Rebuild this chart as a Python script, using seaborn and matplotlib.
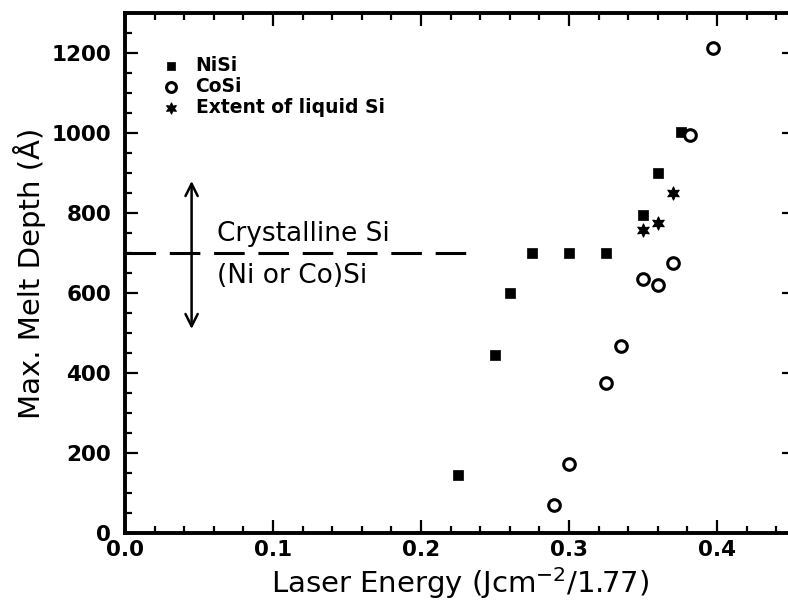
import matplotlib
matplotlib.use("Agg")
import matplotlib.pyplot as plt
from matplotlib.ticker import MultipleLocator
import seaborn as sns

# Maximum melt depth versus laser energy
nisi_energy = [0.225, 0.25, 0.26, 0.275, 0.30, 0.325, 0.35, 0.36, 0.376]
nisi_depth = [145, 445, 600, 700, 700, 700, 795, 900, 1002]

cosi_energy = [0.29, 0.30, 0.325, 0.335, 0.35, 0.36, 0.37, 0.382, 0.397]
cosi_depth = [70, 172, 375, 468, 635, 620, 675, 995, 1213]

liquid_energy = [0.35, 0.36, 0.37]
liquid_depth = [757, 775, 851]

interface_depth = 700
interface_end = 0.235
arrow_energy = 0.045
arrow_span = [510, 880]

sns.set_theme(style="ticks")
plt.rcParams["font.family"] = ["DejaVu Sans"]
plt.rcParams["text.color"] = "black"
plt.rcParams["axes.labelcolor"] = "black"
plt.rcParams["xtick.color"] = "black"
plt.rcParams["ytick.color"] = "black"

fig = plt.figure(figsize=(7.88, 6.06), dpi=100)
ax = fig.add_axes([125 / 788, 73 / 606, 669.7 / 788, 520 / 606])

# Interface between crystalline Si and the silicide
ax.plot([0, interface_end], [interface_depth, interface_depth], color="black",
        lw=2.2, dashes=(10, 4.5), zorder=2)

sns.scatterplot(x=nisi_energy, y=nisi_depth, marker="s", color="black",
                edgecolor="black", s=55, linewidth=0.5, ax=ax, label="NiSi", zorder=3)
sns.scatterplot(x=cosi_energy, y=cosi_depth, marker="o", color="white",
                edgecolor="black", s=70, linewidth=2.2, ax=ax, label="CoSi", zorder=3)
sns.scatterplot(x=liquid_energy, y=liquid_depth, marker=(6, 1, 0), color="black",
                edgecolor="black", s=90, linewidth=0.8, ax=ax,
                label="Extent of liquid Si", zorder=3)

ax.annotate("", xy=(arrow_energy, arrow_span[1]), xytext=(arrow_energy, arrow_span[0]),
            arrowprops=dict(arrowstyle="<->", lw=1.8, color="black", mutation_scale=22,
                            shrinkA=0, shrinkB=0))
ax.text(0.062, 716, "Crystalline Si", fontsize=19, ha="left", va="bottom")
ax.text(0.062, 676, "(Ni or Co)Si", fontsize=19, ha="left", va="top")

ax.set_xlim(0, 0.4525)
ax.set_ylim(0, 1300)
ax.xaxis.set_major_locator(MultipleLocator(0.1))
ax.xaxis.set_minor_locator(MultipleLocator(0.02))
ax.yaxis.set_major_locator(MultipleLocator(200))
ax.yaxis.set_minor_locator(MultipleLocator(50))
ax.xaxis.set_major_formatter(plt.FuncFormatter(lambda v, p: f"{v:.1f}"))

ax.tick_params(which="both", direction="in", top=True, right=True, color="black",
               width=1.6)
ax.tick_params(which="major", length=9.5)
ax.tick_params(which="minor", length=5)
ax.tick_params(axis="x", which="major", pad=5)
ax.tick_params(axis="y", which="major", pad=10)
for lab in ax.get_xticklabels() + ax.get_yticklabels():
    lab.set_fontsize(15.5)
    lab.set_fontweight("bold")

for sp in ax.spines.values():
    sp.set_linewidth(2.8)
    sp.set_color("black")

ax.set_xlabel(r"Laser Energy (Jcm$^{-2}$/1.77)", fontsize=21, labelpad=4)
ax.set_ylabel("Max. Melt Depth (Å)", fontsize=21, labelpad=4)

ax.legend(loc="upper left", bbox_to_anchor=(0.055, 0.918), frameon=False,
          prop=dict(size=13.5, weight="bold"), handlelength=1.0, handletextpad=0.8,
          labelspacing=0.12, borderpad=0, borderaxespad=0, markerscale=0.85)

fig.savefig("out.png", dpi=100)
